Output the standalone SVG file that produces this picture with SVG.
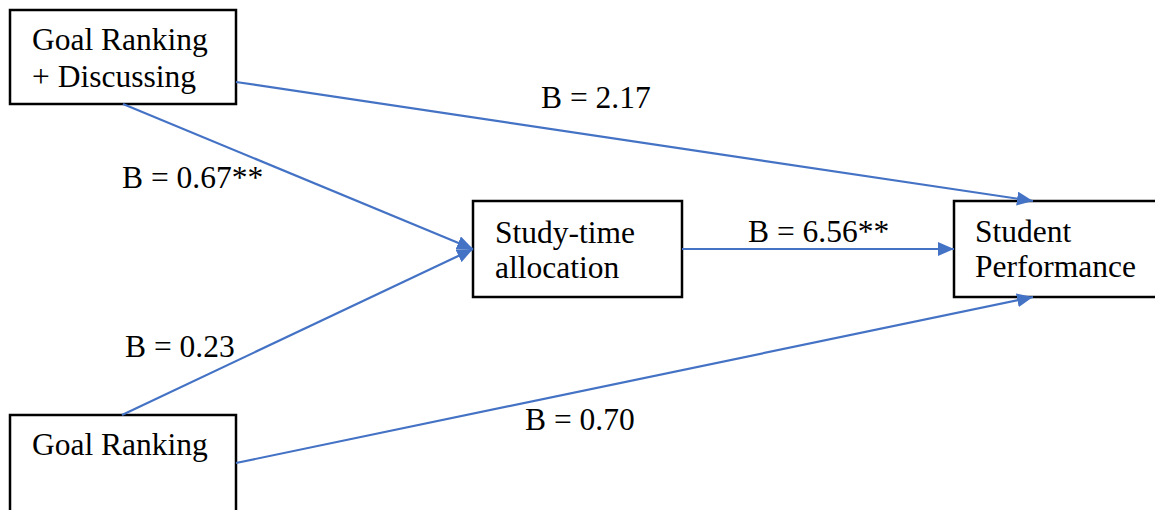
<svg xmlns="http://www.w3.org/2000/svg" width="1155" height="510" viewBox="0 0 1155 510">
<style>
.box{fill:#fff;stroke:#000;stroke-width:2.5}
.t{font-family:"Liberation Serif","Times New Roman",serif;font-size:31.5px;fill:#000}
.c{stroke:#4472C4;stroke-width:2.2;fill:none;marker-end:url(#ah)}
</style>
<defs>
<marker id="ah" markerUnits="userSpaceOnUse" markerWidth="18" markerHeight="14" refX="16" refY="7" orient="auto">
<path d="M0,0 L16,7 L0,14 Z" fill="#4472C4"/>
</marker>
</defs>
<rect width="1155" height="510" fill="#fff"/>
<g id="n1">
<rect class="box" x="10" y="10" width="226" height="94"/>
<text class="t" x="32" y="50">Goal Ranking</text>
<text class="t" x="32" y="87">+ Discussing</text>
</g>
<g id="n2">
<rect class="box" x="473" y="201" width="209" height="96"/>
<text class="t" x="495" y="243">Study-time</text>
<text class="t" x="495" y="278">allocation</text>
</g>
<g id="n3">
<rect class="box" x="954" y="201" width="210" height="96"/>
<text class="t" x="975" y="242">Student</text>
<text class="t" x="975" y="277">Performance</text>
</g>
<g id="n4">
<rect class="box" x="10" y="415" width="226" height="110"/>
<text class="t" x="32" y="455">Goal Ranking</text>
</g>
<g id="connectors">
<line class="c" x1="236" y1="82" x2="1033" y2="201"/>
<line class="c" x1="123" y1="104" x2="473" y2="249"/>
<line class="c" x1="122" y1="415" x2="473" y2="249"/>
<line class="c" x1="682" y1="249" x2="954" y2="249"/>
<line class="c" x1="236" y1="463" x2="1033" y2="297"/>
</g>
<g id="labels">
<text class="t" x="541" y="108">B = 2.17</text>
<text class="t" x="122" y="188">B = 0.67**</text>
<text class="t" x="748" y="242">B = 6.56**</text>
<text class="t" x="125" y="357">B = 0.23</text>
<text class="t" x="525" y="430">B = 0.70</text>
</g>
</svg>
